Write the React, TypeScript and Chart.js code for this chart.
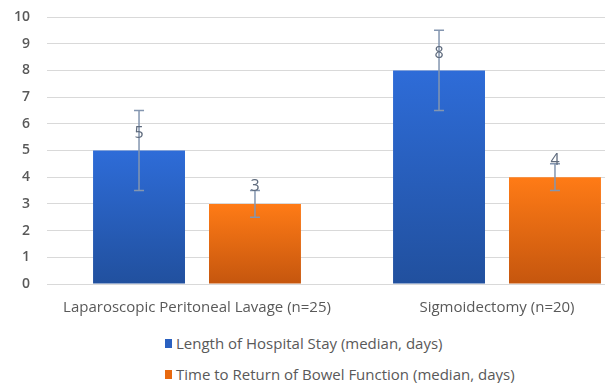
import React, { useEffect, useRef } from "react";
import { Chart, registerables } from "chart.js";
Chart.register(...registerables);

const categories = ["Laparoscopic Peritoneal Lavage (n=25)", "Sigmoidectomy (n=20)"];
const seriesNames = [
  "Length of Hospital Stay (median, days)",
  "Time to Return of Bowel Function (median, days)",
];
const hospitalStay = [5, 8];
const bowelFunction = [3, 4];
const hospitalStayLow = [3.5, 6.5];
const hospitalStayHigh = [6.5, 9.5];
const bowelFunctionLow = [2.5, 3.5];
const bowelFunctionHigh = [3.5, 4.5];
const yMin = 0;
const yMax = 10;
const yStep = 1;

const FONT = "'Open Sans', Lato, sans-serif";
const TEXT = "#595959";
const seriesColors = [
  { top: "#2e6cd8", bottom: "#21509e", solid: "#2a60c0" },
  { top: "#ff7b16", bottom: "#c5560e", solid: "#e8690f" },
];
const errLows = [hospitalStayLow, bowelFunctionLow];
const errHighs = [hospitalStayHigh, bowelFunctionHigh];

function gradientFill(idx: number) {
  return (ctx: any) => {
    const chart = ctx.chart;
    const c = seriesColors[idx];
    if (!chart.chartArea || ctx.type !== "data" || !ctx.parsed) return c.solid;
    const y = chart.scales.y;
    const top = y.getPixelForValue(ctx.parsed.y);
    const bottom = y.getPixelForValue(0);
    const g = chart.ctx.createLinearGradient(0, top, 0, bottom);
    g.addColorStop(0, c.top);
    g.addColorStop(1, c.bottom);
    return g;
  };
}

const overlayPlugin = {
  id: "overlay",
  afterDatasetsDraw(chart: any) {
    const ctx = chart.ctx;
    const y = chart.scales.y;
    chart.data.datasets.forEach((ds: any, i: number) => {
      const meta = chart.getDatasetMeta(i);
      meta.data.forEach((bar: any, j: number) => {
        const x = bar.x;
        const lo = y.getPixelForValue(errLows[i][j]);
        const hi = y.getPixelForValue(errHighs[i][j]);
        ctx.save();
        ctx.strokeStyle = "#8496b0";
        ctx.lineWidth = 1.5;
        ctx.beginPath();
        ctx.moveTo(x, lo);
        ctx.lineTo(x, hi);
        ctx.moveTo(x - 5, lo);
        ctx.lineTo(x + 5, lo);
        ctx.moveTo(x - 5, hi);
        ctx.lineTo(x + 5, hi);
        ctx.stroke();
        ctx.restore();
      });
    });
    chart.data.datasets.forEach((ds: any, i: number) => {
      const meta = chart.getDatasetMeta(i);
      meta.data.forEach((bar: any, j: number) => {
        ctx.save();
        ctx.fillStyle = "#5f6b7d";
        ctx.font = `16px ${FONT}`;
        ctx.textAlign = "center";
        ctx.textBaseline = "middle";
        ctx.fillText(String(ds.data[j]), bar.x, bar.y - 17);
        ctx.restore();
      });
    });
  },
};

export default function App() {
  const ref = useRef<HTMLCanvasElement | null>(null);
  useEffect(() => {
    if (!ref.current) return;
    const chart = new Chart(ref.current, {
      type: "bar",
      data: {
        labels: categories,
        datasets: [
          { label: seriesNames[0], data: hospitalStay, backgroundColor: gradientFill(0) },
          { label: seriesNames[1], data: bowelFunction, backgroundColor: gradientFill(1) },
        ],
      },
      options: {
        responsive: false,
        animation: false,
        categoryPercentage: 0.773,
        barPercentage: 0.793,
        layout: { padding: { top: 17, right: 13, left: 0, bottom: 0 } },
        plugins: { legend: { display: false }, tooltip: { enabled: false } },
        scales: {
          x: {
            grid: { display: false, drawTicks: false },
            border: { display: false },
            ticks: { color: TEXT, font: { family: FONT, size: 15 }, padding: 15, maxRotation: 0 },
            afterFit: (s: any) => {
              s.height = 36;
            },
          },
          y: {
            min: yMin,
            max: yMax,
            grid: { color: "#d9d9d9", lineWidth: 1, drawTicks: false },
            border: { display: false },
            ticks: {
              stepSize: yStep,
              color: TEXT,
              font: { family: FONT, size: 14, weight: "600" },
              padding: 17,
            },
            afterFit: (s: any) => {
              s.width = 47;
              s.paddingTop = 8;
              s.paddingBottom = 8;
            },
          },
        },
      },
      plugins: [overlayPlugin],
    } as any);
    return () => chart.destroy();
  }, []);

  const legendRow = (i: number, top: number) => (
    <div
      key={i}
      style={{
        position: "absolute",
        left: 165,
        top,
        display: "flex",
        alignItems: "center",
        fontFamily: FONT,
        fontSize: 15,
        color: TEXT,
        whiteSpace: "nowrap",
        lineHeight: "18px",
      }}
    >
      <span
        style={{
          display: "inline-block",
          width: 7,
          height: 9,
          background: seriesColors[i].solid,
          marginRight: 4,
        }}
      />
      <span>{seriesNames[i]}</span>
    </div>
  );

  return (
    <div
      style={{
        position: "absolute",
        left: 0,
        top: 0,
        width: 605,
        height: 383,
        overflow: "hidden",
        background: "#fff",
      }}
    >
      <canvas ref={ref} width={660} height={320} style={{ display: "block", width: 660, height: 320 }} />
      {legendRow(0, 334)}
      {legendRow(1, 365)}
    </div>
  );
}
